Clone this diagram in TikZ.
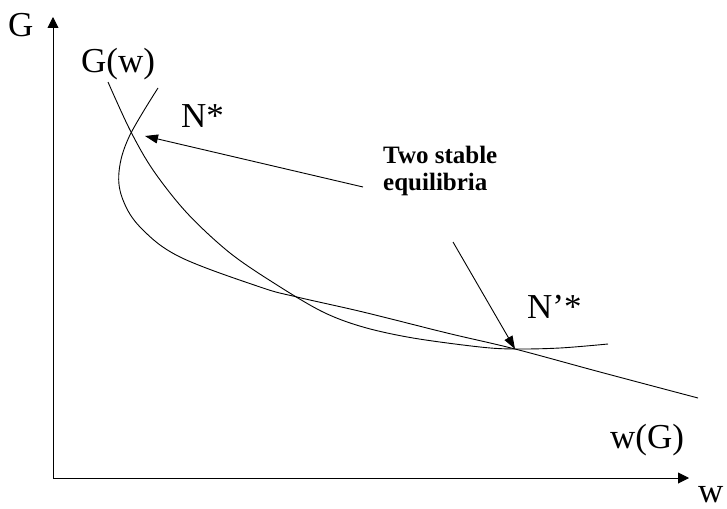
\documentclass[tikz,border=0pt]{standalone}
\usepackage{fontspec}
\setmainfont{Liberation Serif}
\usetikzlibrary{arrows.meta}
\tikzset{
  curve/.style={line width=0.9pt},
  axis/.style={line width=0.9pt,-{Triangle[length=11pt,width=11pt]}},
  pointer/.style={line width=0.9pt,-{Triangle[length=13pt,width=9pt]}},
  lab/.style={inner sep=0pt,anchor=base west,font=\fontsize{35}{35}\selectfont},
  note/.style={inner sep=0pt,anchor=base west,font=\fontsize{25}{27}\selectfont\bfseries,align=left}
}
\begin{document}
\begin{tikzpicture}[x=1pt,y=-1pt]
\useasboundingbox (0,0) rectangle (727,508);
% axes
\coordinate (O) at (53,478);
\coordinate (Ytop) at (53,17);
\coordinate (Xend) at (689,478);
\draw[axis] (O) -- (Ytop);
\draw[axis] (O) -- (Xend);
% curve G(w)
\draw[curve] plot[smooth,tension=0.55] coordinates {(108,82) (130,130) (153,170) (187,213) (230,253) (277,285) (323,312) (363,327) (413,338) (480,347) (515,349) (560,348) (608,344)};
% curve w(G)
\draw[curve] plot[smooth,tension=0.6] coordinates {(158,88) (129,137) (119,172) (123,200) (141,228) (180,257) (260,287) (297,297) (363,312) (447,333) (515,349) (600,372) (698,398)};
% labels
\node[lab] (Gax) at (8,37) {G};
\node[lab] (wax) at (698,502) {w};
\node[lab] (Gw) at (81,73) {G(w)};
\node[lab] (wG) at (610,448) {w(G)};
\node[lab] (Nstar) at (181,128) {N*};
\node[lab] (Npstar) at (527,318) {N'*};
\node[note] (eq) at (383,190) {Two stable\\equilibria};
% pointers
\coordinate (a1) at (363,187);
\coordinate (t1) at (145,136);
\coordinate (a2) at (453,242);
\coordinate (t2) at (515,349);
\draw[pointer] (a1) -- (t1);
\draw[pointer] (a2) -- (t2);
\end{tikzpicture}
\end{document}
